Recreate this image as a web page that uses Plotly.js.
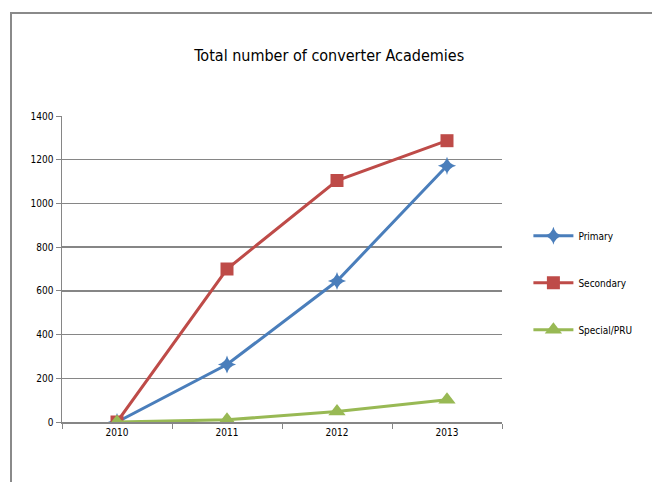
<!DOCTYPE html>
<html><head><meta charset="utf-8">
<script src="https://cdn.plot.ly/plotly-3.0.1.min.js"></script>
<style>
body{margin:0;padding:0;background:#fff;}
#frame{position:absolute;left:10px;top:12px;width:660px;height:480px;border-left:2px solid #8a8a8a;border-top:2px solid #8a8a8a;pointer-events:none;z-index:5;}
#chart{position:absolute;left:0;top:0;width:652px;height:482px;}
</style></head>
<body>
<div id="chart"></div>
<div id="frame"></div>
<script>
const years = ["2010", "2011", "2012", "2013"];
const primary = [0, 263, 645, 1172];
const secondary = [0, 700, 1105, 1287];
const special = [0, 10, 48, 102];
const yTicks = [0, 200, 400, 600, 800, 1000, 1200, 1400];

const font = "DejaVu Sans Condensed, Liberation Sans Narrow, sans-serif";
const traces = [
  {x: years, y: primary, name: "Primary", mode: "lines+markers", legendgroup: "a",
   line: {color: "#4a7ebb", width: 3}, marker: {symbol: "star-diamond", size: 13, color: "#4a7ebb"}},
  {x: years, y: secondary, name: "Secondary", mode: "lines+markers", legendgroup: "b",
   line: {color: "#be4b48", width: 3}, marker: {symbol: "square", size: 13, color: "#be4b48"}},
  {x: years, y: special, name: "Special/PRU", mode: "lines+markers", legendgroup: "c",
   line: {color: "#98b954", width: 3}, marker: {symbol: "triangle-up", size: 15, color: "#98b954"}}
];
const layout = {
  width: 652, height: 482,
  margin: {l: 62, r: 150, t: 116, b: 60},
  paper_bgcolor: "#fff", plot_bgcolor: "#fff",
  title: {text: "Total number of converter Academies", x: 0.505, xanchor: "center", y: 0.885, yanchor: "middle",
          font: {family: font, size: 16, color: "#000"}},
  xaxis: {type: "category", range: [-0.5, 3.5], showgrid: false, showline: true, linecolor: "#868686", linewidth: 1.5,
          ticks: "outside", ticklen: 5, tickcolor: "#868686", tickson: "boundaries",
          tickfont: {family: font, size: 10, color: "#000"}, zeroline: false, fixedrange: true},
  yaxis: {range: [0, 1400], tickvals: yTicks, ticktext: yTicks.map(String), showgrid: true, gridcolor: "#868686", gridwidth: 1.5,
          showline: true, linecolor: "#868686", linewidth: 1.5, ticks: "outside", ticklen: 5, tickcolor: "#868686",
          tickfont: {family: font, size: 10, color: "#000"}, zeroline: false, fixedrange: true},
  legend: {x: 1.06, y: 0.455, xanchor: "left", yanchor: "middle", font: {family: font, size: 10, color: "#000"},
           traceorder: "grouped", tracegroupgap: 28, itemwidth: 40, itemsizing: "trace", bgcolor: "rgba(0,0,0,0)"},
  showlegend: true
};
Plotly.newPlot("chart", traces, layout, {displayModeBar: false, staticPlot: true});
</script>
</body></html>
